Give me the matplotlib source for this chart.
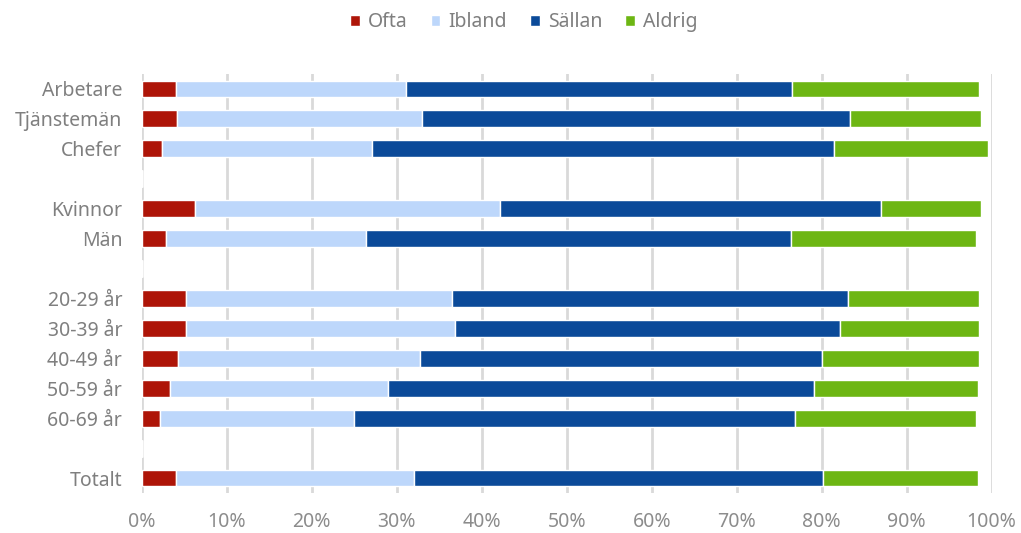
import numpy as np
import matplotlib
matplotlib.use("Agg")
import matplotlib.pyplot as plt
from matplotlib.ticker import PercentFormatter

plt.rcParams["font.family"] = ["Noto Sans", "DejaVu Sans"]

# Answer shares (%) per group; empty strings are spacer rows
groups = ["Arbetare", "Tjänstemän", "Chefer", "",
          "Kvinnor", "Män", "",
          "20-29 år", "30-39 år", "40-49 år", "50-59 år", "60-69 år", "",
          "Totalt"]
ofta   = [4.0, 4.2, 2.4, 0, 6.3, 2.8, 0, 5.2, 5.2, 4.3, 3.3, 2.1, 0, 4.0]
ibland = [27.1, 28.8, 24.7, 0, 35.8, 23.6, 0, 31.3, 31.6, 28.4, 25.7, 22.9, 0, 28.0]
sallan = [45.4, 50.3, 54.4, 0, 44.9, 50.0, 0, 46.6, 45.3, 47.3, 50.1, 51.8, 0, 48.1]
aldrig = [22.0, 15.5, 18.1, 0, 11.8, 21.8, 0, 15.4, 16.4, 18.5, 19.3, 21.3, 0, 18.3]

series = [("Ofta", ofta, "#ae1508"),
          ("Ibland", ibland, "#bdd7fb"),
          ("Sällan", sallan, "#0b4a99"),
          ("Aldrig", aldrig, "#6db613")]

fig = plt.figure(figsize=(10.21, 5.33), dpi=100)
ax = fig.add_axes([0.1388, 0.075, 0.8325, 0.7862])

y = np.arange(len(groups))
left = np.zeros(len(groups))
for name, vals, color in series:
    vals = np.array(vals, dtype=float)
    ax.barh(y, vals, left=left, height=0.56, color=color, edgecolor="white",
            linewidth=1.0, label=name, zorder=3)
    left += vals

ax.set_xlim(0, 100)
ax.set_ylim(len(groups) - 0.5, -0.5)
ax.set_xticks(np.arange(0, 101, 10))
ax.xaxis.set_major_formatter(PercentFormatter(decimals=0))
ax.set_yticks(y)
ax.set_yticklabels(groups)
ax.tick_params(axis="both", length=0, labelsize=14)
ax.tick_params(axis="x", pad=14, colors="#8c8c8c")
ax.tick_params(axis="y", pad=14, colors="#7f7f7f")
ax.grid(axis="x", color="#d9d9d9", linewidth=2, zorder=0)
for s in ax.spines.values():
    s.set_visible(False)

fig.legend(loc="center", bbox_to_anchor=(0.513, 0.958), ncol=4,
           frameon=False, fontsize=14, handlelength=0.5, handleheight=0.5,
           handletextpad=0.4, columnspacing=1.2, labelcolor="#7f7f7f")

fig.savefig("out.png", dpi=100)
